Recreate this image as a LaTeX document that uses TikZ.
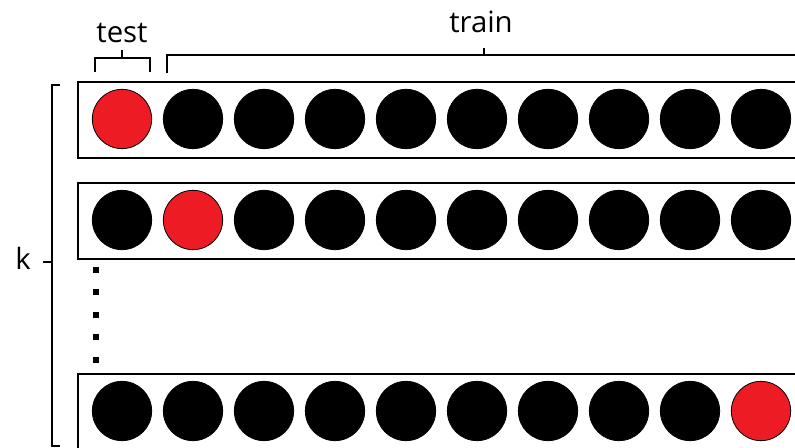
\documentclass[tikz,border=0pt]{standalone}
\usepackage{fontspec}
\setmainfont{Open Sans}
\usetikzlibrary{positioning}
\definecolor{pickred}{HTML}{ED1C24}
\tikzset{
 ball/.style={circle,draw=black,line width=.6pt,minimum size=44.5pt,inner sep=0pt},
 rowbox/.style={draw,line width=1.1pt},
 brak/.style={line width=.8pt}
}
\begin{document}
\begin{tikzpicture}[x=.75pt,y=-.75pt,font=\fontsize{22}{26}\selectfont]
\useasboundingbox (0,0) rectangle (795,448);
\clip (0,0) rectangle (795,448);
% folds: row centre / index of the test ball
\foreach \r/\y/\red in {1/120/1,2/221/2,3/412/10}{
 \draw[rowbox] (78,\y-38) rectangle (830,\y+38);
 \foreach \i in {1,...,10}{
  \ifnum\i=\red\def\col{pickred}\else\def\col{black}\fi
  \node[ball,fill=\col] (c\r-\i) at (51+71*\i,\y-1) {};
 }
}
\foreach \d in {0,...,4}
 \fill (93,267+22.5*\d) rectangle +(6,6);
% labels
\node[anchor=base] (test) at (122,43) {test};
\node[anchor=base] (train) at (481,33) {train};
\node[anchor=base] (k) at (23,270) {k};
% brackets
\draw[brak] (95,72)--(95,58)--(150,58)--(150,72);
\draw[brak] (122,58)--(122,50);
\draw[brak] (167,73)--(167,55)--(830,55);
\draw[brak] (484,55)--(484,48);
\draw[brak] (60,85)--(52,85)--(52,446)--(60,446);
\draw[brak] (43,262)--(52,262);
\end{tikzpicture}
\end{document}
